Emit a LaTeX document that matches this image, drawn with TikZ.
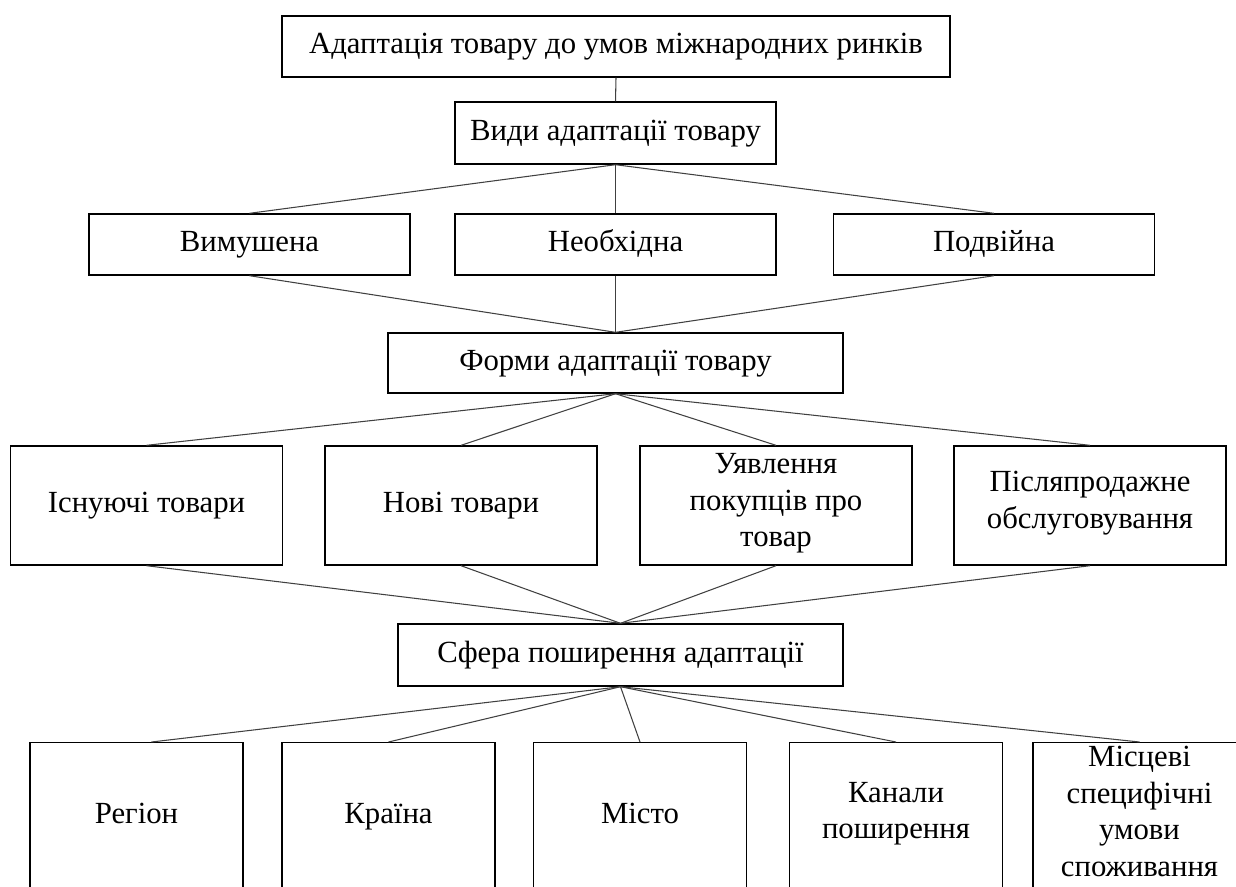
\documentclass[tikz,border=0pt]{standalone}
\usepackage{fontspec}
\setmainfont{Liberation Serif}
\usetikzlibrary{positioning}

\begin{document}
\begin{tikzpicture}[x=0.02cm,y=-0.02cm,
    box/.style={draw, line width=0.8pt, align=center, inner sep=2pt,
      font=\fontsize{17.5}{20.8}\selectfont,
      execute at begin node=\strut, execute at end node=\strut},
    wide/.style={minimum width=6.42cm, minimum height=1.22cm},
    tall/.style={minimum width=5.44cm, minimum height=2.38cm},
    leaf/.style={minimum width=4.26cm, minimum height=2.92cm, anchor=north},
    link/.style={draw=black!75, line width=0.6pt}]

		% Frame of the page
		\useasboundingbox (0,0) rectangle (1236,886);
		\clip (0,0) rectangle (1236,886);

		% Top and types
		\node[box, minimum width=13.36cm, minimum height=1.22cm] (main) at (616,46.5) {Адаптація товару до умов міжнародних ринків};
		\node[box, wide, minimum height=1.24cm] (types) at (615.5,133) {Види адаптації товару};
		\node[box, wide] (forced) at (249.5,244.5) {Вимушена};
		\node[box, wide] (needed) at (615.5,244.5) {Необхідна};
		\node[box, wide] (double) at (994,244.5) {Подвійна};

		% Forms
		\node[box, minimum width=9.1cm, minimum height=1.2cm] (forms) at (615.5,363) {Форми адаптації товару};
		\node[box, tall] (exist) at (146.5,505.5) {Існуючі товари};
		\node[box, tall] (new) at (461,505.5) {Нові товари};
		\node[box, tall] (image) at (776,505.5) {Уявлення\\покупців про\\товар};
		\node[box, tall] (service) at (1090,505.5) {Післяпродажне\\обслуговування};

		% Sphere
		\node[box, minimum width=8.9cm, minimum height=1.24cm] (sphere) at (620.5,655) {Сфера поширення адаптації};
		\node[box, leaf] (region) at (136.5,742) {Регіон};
		\node[box, leaf] (country) at (388.5,742) {Країна};
		\node[box, leaf] (city) at (640,742) {Місто};
		\node[box, leaf] (channels) at (896,742) {Канали\\поширення};
		\node[box, leaf] (local) at (1139.5,742) {Місцеві\\специфічні\\умови\\споживання};

		% Connectors
		\draw[link] (main.south) -- (types.north);
		\foreach \n in {forced,needed,double}{
			\draw[link] (types.south) -- (\n.north);
			\draw[link] (\n.south) -- (forms.north);
		}
		\foreach \n in {exist,new,image,service}{
			\draw[link] (forms.south) -- (\n.north);
			\draw[link] (\n.south) -- (sphere.north);
		}
		\draw[link] (sphere.south) -- ([xshift=0.3cm]region.north);
		\foreach \n in {country,city,channels,local}
			\draw[link] (sphere.south) -- (\n.north);
\end{tikzpicture}
\end{document}
